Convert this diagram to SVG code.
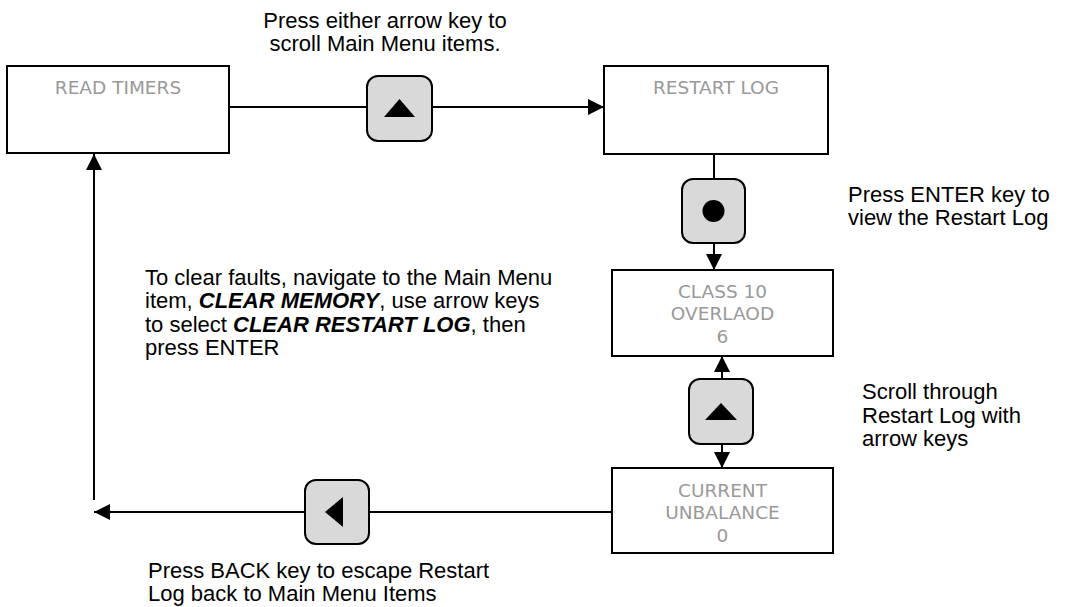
<svg xmlns="http://www.w3.org/2000/svg" width="1076" height="607" viewBox="0 0 1076 607">
<style>
.box{fill:#fff;stroke:#000;stroke-width:2}
.btn{fill:#d9d9d9;stroke:#000;stroke-width:2}
.bt{font-family:"DejaVu Sans",Verdana,sans-serif;font-size:18.5px;fill:#999;text-anchor:middle}
.lbl{font-family:"Liberation Sans",Arial,sans-serif;font-size:22px;fill:#000}
.ln{fill:none;stroke:#000;stroke-width:2}
</style>
<defs>
<marker id="ah" markerUnits="userSpaceOnUse" markerWidth="16" markerHeight="16" refX="16" refY="8" orient="auto">
<path d="M0,0 L16,8 L0,16 Z" fill="#000"/>
</marker>
</defs>
<g id="connectors">
<line class="ln" x1="229" y1="107" x2="367" y2="107"/>
<line class="ln" x1="432" y1="107" x2="604" y2="107" marker-end="url(#ah)"/>
<line class="ln" x1="714" y1="154" x2="714" y2="179"/>
<line class="ln" x1="714" y1="243" x2="714" y2="270" marker-end="url(#ah)"/>
<line class="ln" x1="722" y1="379" x2="722" y2="356" marker-end="url(#ah)"/>
<line class="ln" x1="722" y1="444" x2="722" y2="468" marker-end="url(#ah)"/>
<line class="ln" x1="612" y1="512" x2="369" y2="512"/>
<line class="ln" x1="305" y1="512" x2="94" y2="512" marker-end="url(#ah)"/>
<line class="ln" x1="94" y1="500" x2="94" y2="154" marker-end="url(#ah)"/>
</g>
<g id="read-timers">
<rect class="box" x="7" y="66" width="222" height="87"/>
<text class="bt" x="118" y="94">READ TIMERS</text>
</g>
<g id="restart-log">
<rect class="box" x="604" y="66" width="224" height="88"/>
<text class="bt" x="716" y="94">RESTART LOG</text>
</g>
<g id="class10">
<rect class="box" x="612" y="270" width="221" height="86"/>
<text class="bt" x="722.5" y="298">CLASS 10</text>
<text class="bt" x="722.5" y="320">OVERLAOD</text>
<text class="bt" x="722.5" y="343">6</text>
</g>
<g id="current-unbalance">
<rect class="box" x="612" y="468" width="221" height="85"/>
<text class="bt" x="722.5" y="497">CURRENT</text>
<text class="bt" x="722.5" y="519">UNBALANCE</text>
<text class="bt" x="722.5" y="542">0</text>
</g>
<g id="btn-up-1">
<rect class="btn" x="367" y="76" width="65" height="65" rx="11"/>
<path d="M384,117 L415,117 L399.5,99 Z" fill="#000"/>
</g>
<g id="btn-enter">
<rect class="btn" x="682" y="179" width="63" height="64" rx="11"/>
<circle cx="713.5" cy="211" r="11" fill="#000"/>
</g>
<g id="btn-up-2">
<rect class="btn" x="689" y="379" width="64" height="65" rx="11"/>
<path d="M705,420 L737,420 L721,403 Z" fill="#000"/>
</g>
<g id="btn-back">
<rect class="btn" x="305" y="480" width="64" height="64" rx="11"/>
<path d="M325,512 L343,497 L343,527 Z" fill="#000"/>
</g>
<g id="labels">
<text class="lbl" x="385" y="28" text-anchor="middle">Press either arrow key to</text>
<text class="lbl" x="385" y="51" text-anchor="middle">scroll Main Menu items.</text>
<text class="lbl" x="848" y="202">Press ENTER key to</text>
<text class="lbl" x="848" y="225">view the Restart Log</text>
<text class="lbl" x="145" y="285">To clear faults, navigate to the Main Menu</text>
<text class="lbl" x="145" y="308">item, <tspan font-weight="bold" font-style="italic">CLEAR MEMORY</tspan>, use arrow keys</text>
<text class="lbl" x="145" y="332">to select <tspan font-weight="bold" font-style="italic">CLEAR RESTART LOG</tspan>, then</text>
<text class="lbl" x="145" y="355">press ENTER</text>
<text class="lbl" x="862" y="399">Scroll through</text>
<text class="lbl" x="862" y="423">Restart Log with</text>
<text class="lbl" x="862" y="446">arrow keys</text>
<text class="lbl" x="148" y="578">Press BACK key to escape Restart</text>
<text class="lbl" x="148" y="601">Log back to Main Menu Items</text>
</g>
</svg>
